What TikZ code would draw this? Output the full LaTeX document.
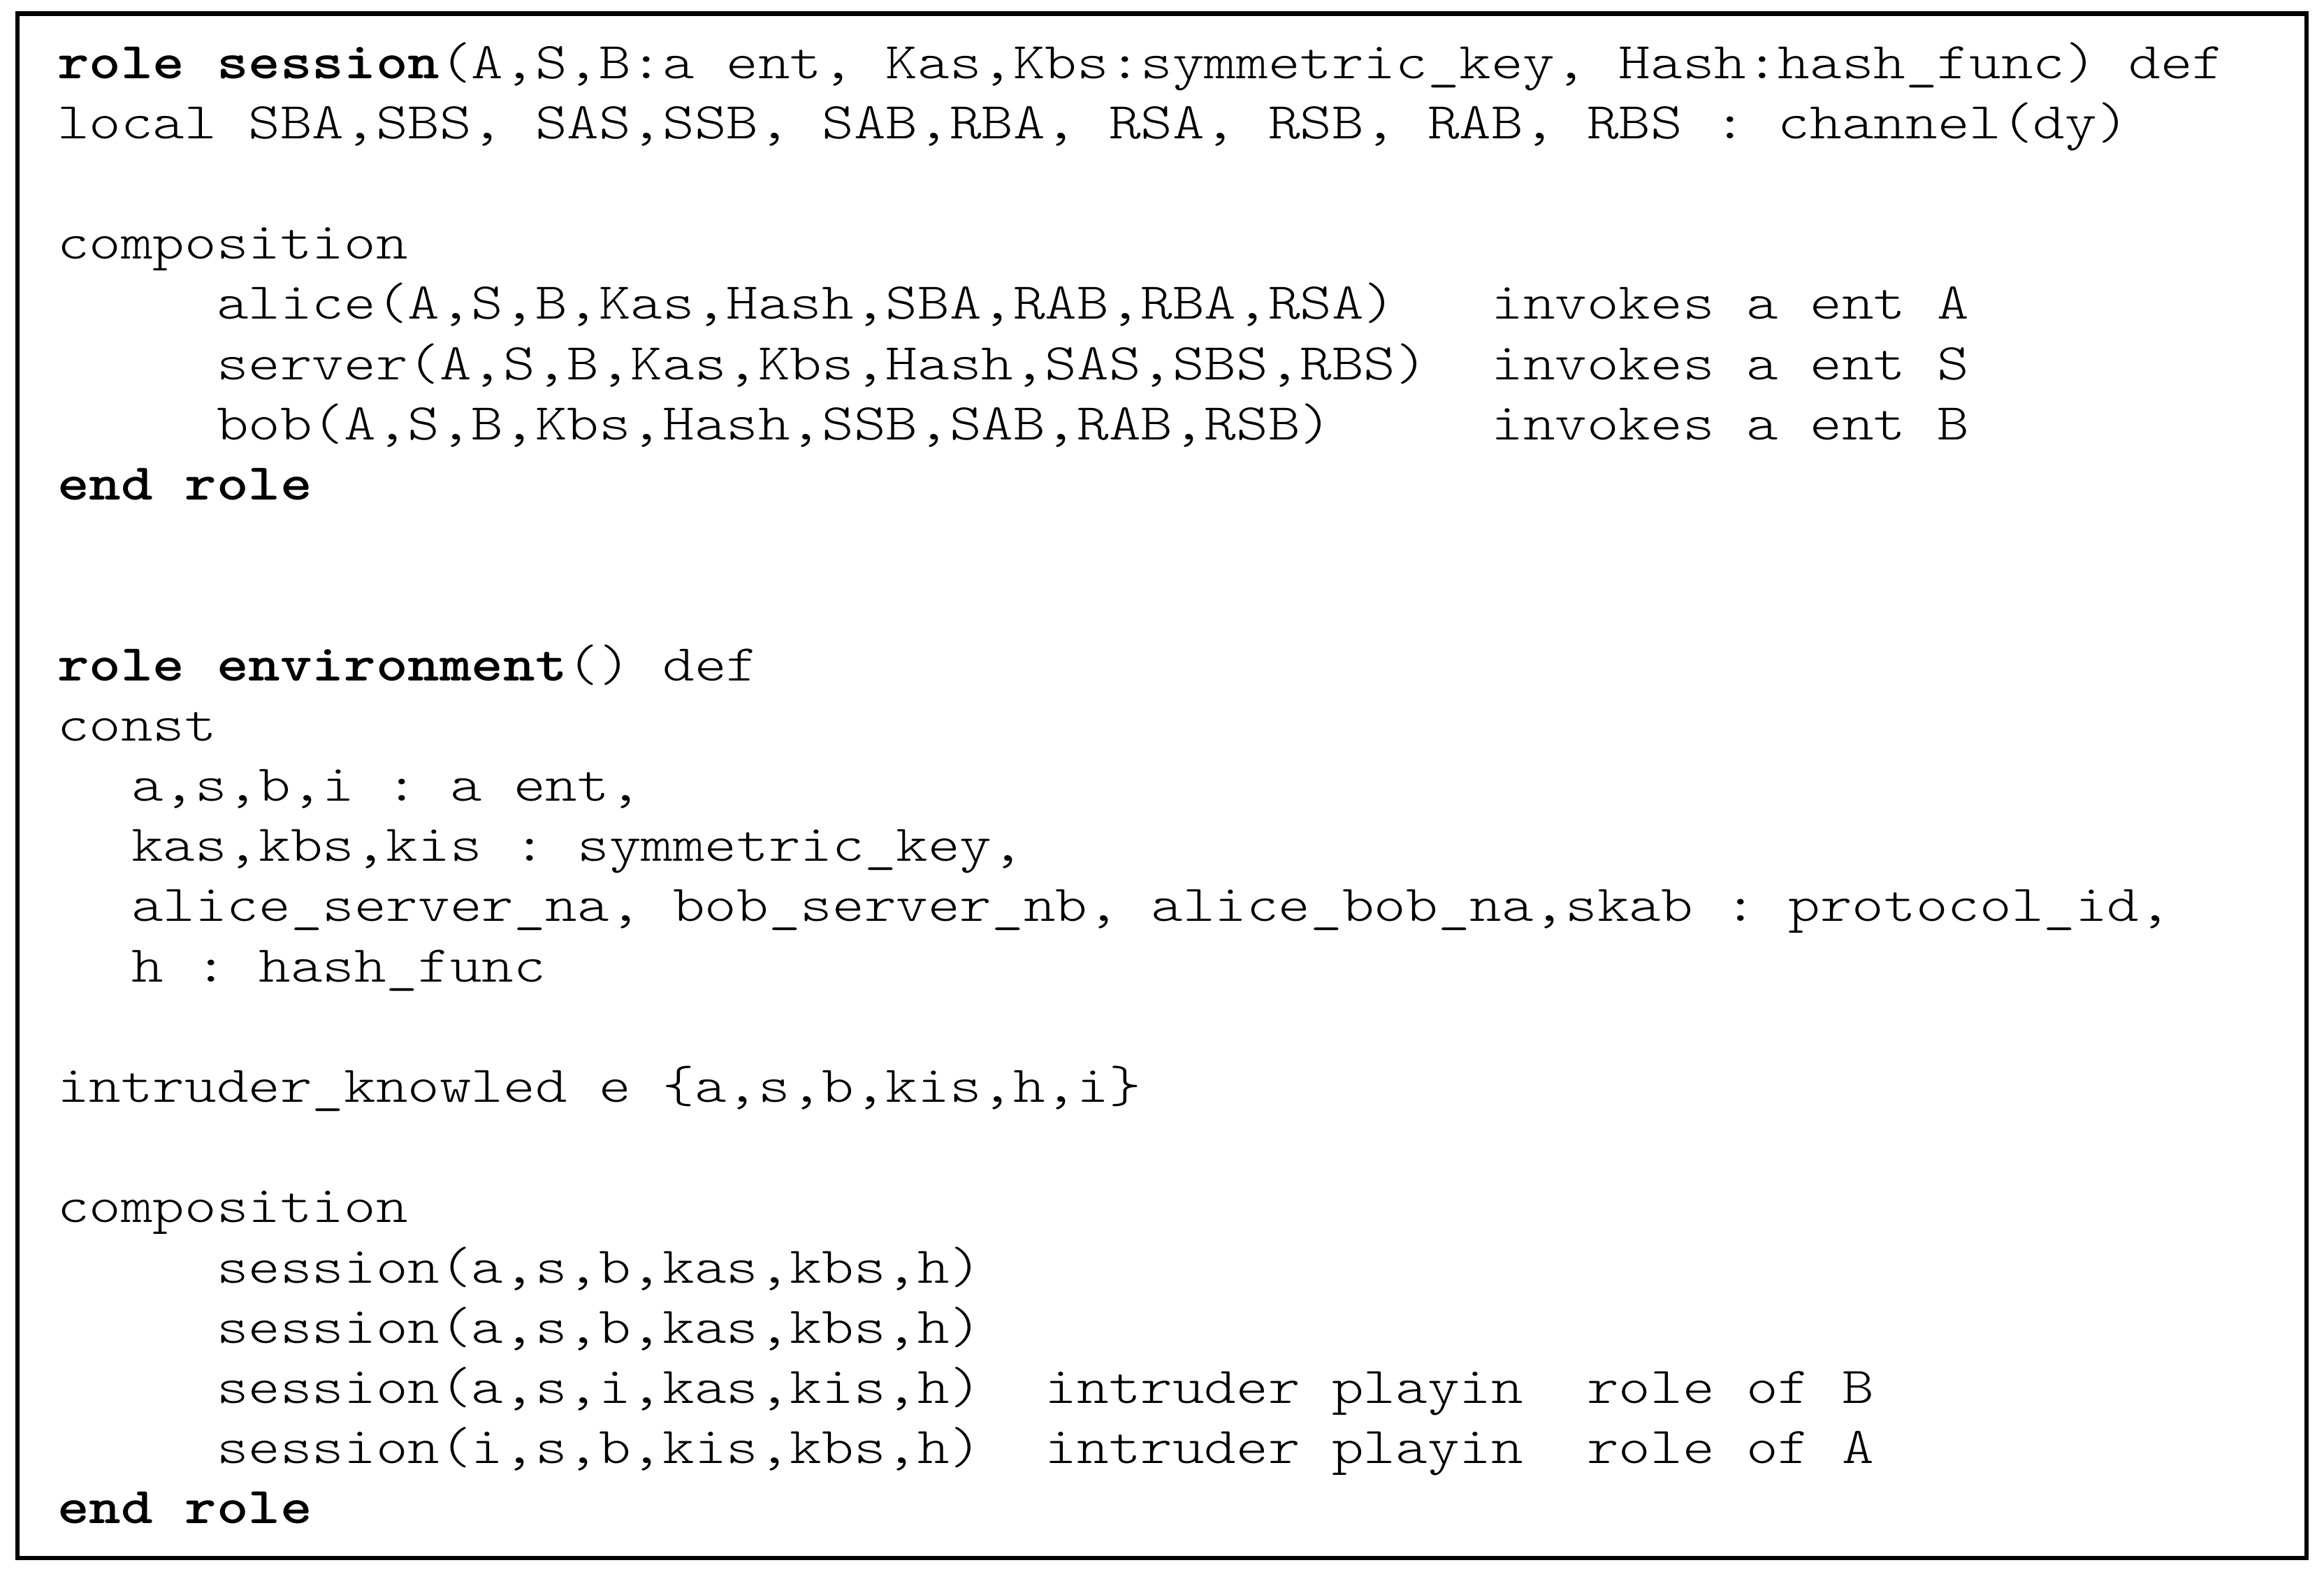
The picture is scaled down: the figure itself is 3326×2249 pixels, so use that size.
\documentclass[tikz,border=0pt]{standalone}
\usepackage{fontspec}
\usepackage{graphicx}
\newfontfamily\codefont{lmmonolt10}[Extension=.otf, UprightFont=*-regular, BoldFont=*-bold, WordSpace={1,0,0}]
\newcommand{\cl}[1]{\scalebox{1.174}[1]{#1}}
\begin{document}
\begin{tikzpicture}[x=0.25pt,y=-0.25pt,
  codeline/.style={anchor=base west, inner sep=0pt, outer sep=0pt,
    font=\codefont\fontsize{18.5}{22}\selectfont\frenchspacing},
  frame/.style={draw=black, line width=1.625pt}]
\useasboundingbox (0,0) rectangle (3326,2249);
\draw[frame] (25,19.5) rectangle (3301,2230);
% first role
\node[codeline] (l1) at (82,112) {\cl{\textbf{role session}(A,S,B:a ent, Kas,Kbs:symmetric\_key, Hash:hash\_func) def}};
\node[codeline] (l2) at (82,198.2) {\cl{local SBA,SBS, SAS,SSB, SAB,RBA, RSA, RSB, RAB, RBS : channel(dy)}};
\node[codeline] (l4) at (82,370.6) {\cl{composition}};
\node[codeline] (l5) at (310,456.8) {\cl{alice(A,S,B,Kas,Hash,SBA,RAB,RBA,RSA)~~~invokes a ent A}};
\node[codeline] (l6) at (310,543) {\cl{server(A,S,B,Kas,Kbs,Hash,SAS,SBS,RBS)~~invokes a ent S}};
\node[codeline] (l7) at (310,629.2) {\cl{bob(A,S,B,Kbs,Hash,SSB,SAB,RAB,RSB)~~~~~invokes a ent B}};
\node[codeline] (l8) at (82,715.4) {\cl{\textbf{end role}}};
% environment role
\node[codeline] (l11) at (82,974) {\cl{\textbf{role environment}() def}};
\node[codeline] (l12) at (82,1060.2) {\cl{const}};
\node[codeline] (l13) at (188,1146.4) {\cl{a,s,b,i : a ent,}};
\node[codeline] (l14) at (188,1232.6) {\cl{kas,kbs,kis : symmetric\_key,}};
\node[codeline] (l15) at (188,1318.8) {\cl{alice\_server\_na, bob\_server\_nb, alice\_bob\_na,skab : protocol\_id,}};
\node[codeline] (l16) at (188,1405) {\cl{h : hash\_func}};
\node[codeline] (l18) at (82,1577.4) {\cl{intruder\_knowled e \{a,s,b,kis,h,i\}}};
\node[codeline] (l20) at (82,1749.8) {\cl{composition}};
\node[codeline] (l21) at (310,1836) {\cl{session(a,s,b,kas,kbs,h)}};
\node[codeline] (l22) at (310,1922.2) {\cl{session(a,s,b,kas,kbs,h)}};
\node[codeline] (l23) at (310,2008.4) {\cl{session(a,s,i,kas,kis,h)~~intruder playin~~role of B}};
\node[codeline] (l24) at (310,2094.6) {\cl{session(i,s,b,kis,kbs,h)~~intruder playin~~role of A}};
\node[codeline] (l25) at (82,2180.8) {\cl{\textbf{end role}}};
\end{tikzpicture}
\end{document}
